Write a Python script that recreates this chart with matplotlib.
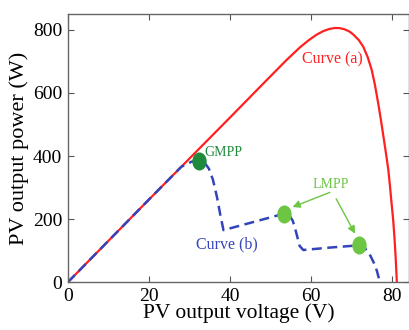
import numpy as np
import matplotlib
matplotlib.use("Agg")
import matplotlib.pyplot as plt
from matplotlib.path import Path
from matplotlib.transforms import Affine2D

plt.rcParams['font.family'] = ['Liberation Serif', 'DejaVu Serif']

# curve (a): uniform irradiance
volt_a = [0, 10, 20, 30, 40, 49, 54, 57.3, 59.5, 61.4, 63, 64.5, 65.8, 67, 68.3, 69.5, 70.4, 71.8,
          72.9, 74, 75, 75.8, 76.6, 77.3, 77.9, 78.5, 79.1, 79.5, 79.9, 80.3, 80.6, 80.9, 81.2]
power_a = [0, 131, 262, 392, 522, 640, 705, 745, 768, 785, 796, 803, 806, 806, 802, 795, 786, 768,
           747, 714, 673, 625, 567, 512, 461, 410, 356, 305, 250, 196, 144, 80, 0]

# curve (b): partial shading
volt_b = [0, 10, 20, 28, 30.5, 32.4, 33.8, 34.8, 35.8, 36.8, 37.6, 38.4, 45, 53.3, 54.6, 55.5, 56.3, 57.2, 58.1, 65, 72, 73.3, 74.5, 75.5, 76.3, 77]
power_b = [0, 131, 262, 366, 382, 385, 378, 360, 325, 270, 215, 165, 188, 217, 212, 195, 160, 115, 102, 110, 117, 108, 88, 62, 35, 0]

gmpp = (32.4, 385)
lmpp_v = [53.3, 71.9]
lmpp_p = [217, 117]

dark_green = '#1e8a3c'
light_green = '#6cc644'
red = '#ff2020'
blue = '#3344bb'

oval = Path.unit_circle().transformed(Affine2D().scale(0.78, 1.0))

fig = plt.figure(figsize=(4.09, 3.30), dpi=100)
ax = fig.add_axes([0.166, 0.145, 0.834, 0.813])

ax.plot(volt_a, power_a, color=red, lw=1.6)
ax.plot(volt_b, power_b, color=blue, lw=1.8, dashes=(4, 2.2))

ax.plot([gmpp[0]], [gmpp[1]], marker=oval, ms=12, color=dark_green, ls='none')
ax.plot(lmpp_v, lmpp_p, marker=oval, ms=12, color=light_green, ls='none')

ax.text(33.8, 410, 'GMPP', color=dark_green, fontsize=10, va='center')
ax.text(64.9, 311, 'LMPP', color=light_green, fontsize=10, ha='center', va='center')
ax.text(65.3, 705, 'Curve (a)', color=red, fontsize=11.5, ha='center', va='center')
ax.text(39.3, 121, 'Curve (b)', color=blue, fontsize=11.5, ha='center', va='center')

arrow = dict(arrowstyle='-|>', color=light_green, lw=1.0, mutation_scale=11)
ax.annotate('', xy=(54.8, 235), xytext=(65.3, 288), arrowprops=arrow)
ax.annotate('', xy=(71.2, 146), xytext=(65.9, 272), arrowprops=arrow)

ax.set_xlim(0, 84.2)
ax.set_ylim(0, 851)
ax.set_xticks([0, 20, 40, 60, 80])
ax.set_yticks([0, 200, 400, 600, 800])
ax.tick_params(direction='in', top=True, right=True, labelsize=14, length=4,
               color='#555555', pad=4)
for s in ax.spines.values():
    s.set_color('#666666')
    s.set_linewidth(1.0)

ax.set_xlabel('PV output voltage (V)', fontsize=15.5, labelpad=-1)
ax.set_ylabel('PV output power (W)', fontsize=16, labelpad=3)

fig.savefig('out.png', dpi=100)
